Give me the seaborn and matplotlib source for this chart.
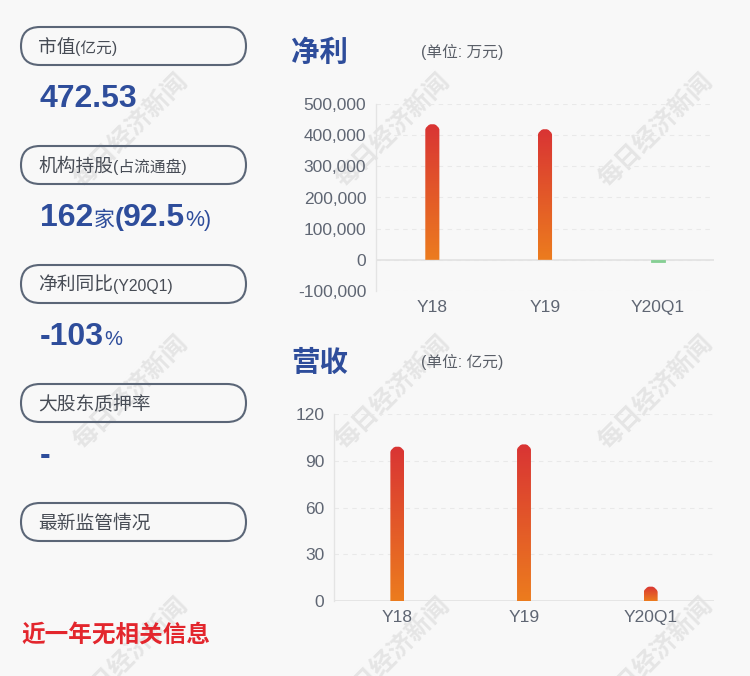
import numpy as np
import pandas as pd
import matplotlib
matplotlib.use('Agg')
import matplotlib.pyplot as plt
import seaborn as sns
from matplotlib.patches import FancyBboxPatch, PathPatch
from matplotlib.path import Path
from matplotlib.transforms import IdentityTransform
from matplotlib.colors import LinearSegmentedColormap

# ---------------- data ----------------
categories = ['Y18', 'Y19', 'Y20Q1']
net_profit = [435000, 419000, -6000]      # 万元
revenue = [99.0, 100.5, 9.2]              # 亿元
profit_ticks = [-100000, 0, 100000, 200000, 300000, 400000, 500000]
revenue_ticks = [0, 30, 60, 90, 120]

info_titles = ['市值', '机构持股', '净利同比', '大股东质押率', '最新监管情况']
info_subtitles = ['(亿元)', '(占流通盘)', '(Y20Q1)', '', '']
market_cap = '472.53'
inst_count = '162'
inst_pct = '92.5'
profit_yoy = '-103'
pledge = '-'
note = '近一年无相关信息'
watermark = '每日经济新闻'

# ---------------- style ----------------
sns.set_theme(style='white')
plt.rcParams['font.family'] = ['Liberation Sans', 'Noto Sans CJK SC', 'DejaVu Sans']
plt.rcParams['axes.unicode_minus'] = False

BG = '#f8f8f8'
BLUE = '#2e4d9b'
GRAY_TXT = '#474c55'
TICK = '#5f6673'
W, H = 750, 676

fig = plt.figure(figsize=(7.5, 6.76), dpi=100, facecolor=BG)
ov = fig.add_axes([0, 0, 1, 1], zorder=-5)
ov.set_xlim(0, W)
ov.set_ylim(H, 0)
ov.axis('off')
renderer = fig.canvas.get_renderer()

# watermarks
for cy in (131, 393, 655):
    for cx in (131, 393, 656):
        ov.text(cx, cy, watermark, rotation=45, ha='center', va='center', fontsize=18,
                fontweight='bold', color='#e5e5e5', family=['Noto Sans CJK SC'], zorder=0)


def pieces(x, y, parts, color):
    for s, size, weight in parts:
        t = ov.text(x, y, s, fontsize=size, fontweight=weight, color=color,
                    va='baseline', ha='left', zorder=3)
        x += t.get_window_extent(renderer).width


# left info panel
box_centers = [46, 165, 284, 403, 522]
for i, c in enumerate(box_centers):
    box = FancyBboxPatch((21, c - 19), 225, 38,
                         boxstyle='round,pad=0,rounding_size=19',
                         fc='none', ec='#5b6677', lw=1.5, zorder=2)
    ov.add_patch(box)
    parts = [(info_titles[i], 13.5, 'normal')]
    if info_subtitles[i]:
        parts.append((info_subtitles[i], 11.3, 'normal'))
    pieces(38, c + 7, parts, GRAY_TXT)

pieces(40, 107, [(market_cap, 23, 'bold')], BLUE)
pieces(40, 226, [(inst_count, 23, 'bold'), ('家', 15, 'normal'), ('(', 19, 'bold'),
                 (inst_pct, 23, 'bold'), ('%)', 15.5, 'normal')], BLUE)
pieces(40, 345, [(profit_yoy, 23, 'bold'), ('%', 14.5, 'normal')], BLUE)
pieces(40, 464, [(pledge, 23, 'bold')], BLUE)
ov.text(21, 642, note, fontsize=17, fontweight='bold', color='#e3262d',
        family=['Noto Sans CJK SC'], va='baseline', ha='left')

# chart titles
ov.text(291, 61, '净利', fontsize=20.5, fontweight='bold', color=BLUE,
        family=['Noto Sans CJK SC'], va='baseline')
ov.text(421, 56.5, '(单位: 万元)', fontsize=11.3, color='#5a5f68', va='baseline')
ov.text(291, 371, '营收', fontsize=20.5, fontweight='bold', color=BLUE,
        family=['Noto Sans CJK SC'], va='baseline')
ov.text(421, 366.5, '(单位: 亿元)', fontsize=11.3, color='#5a5f68', va='baseline')

cmap = LinearSegmentedColormap.from_list('barg', ['#ec7c1e', '#d93434'])


def style_axes(ax, ticks, ylim, fmt):
    ax.set_facecolor('none')
    ax.set_xlim(-0.5, 2.5)
    ax.set_ylim(*ylim)
    ax.set_yticks(ticks)
    ax.set_yticklabels([fmt(v) for v in ticks])
    ax.set_xlabel('')
    ax.set_ylabel('')
    for s in ('top', 'right', 'bottom'):
        ax.spines[s].set_visible(False)
    ax.spines['left'].set_color('#e4e4e4')
    ax.spines['left'].set_linewidth(1)
    ax.tick_params(axis='both', length=0, labelsize=12.5, labelcolor=TICK)
    ax.tick_params(axis='y', pad=7)
    ax.tick_params(axis='x', pad=6.5)
    ax.yaxis.grid(True, linestyle=(0, (4, 4)), color='#e9e9e9', lw=0.8)
    ax.set_axisbelow(True)
    ax.axhline(0, color='#e2e2e2', lw=1.2, zorder=1)


def gradient_bars(ax):
    ax.set_autoscale_on(False)
    items = []
    for p in list(ax.patches):
        h = p.get_height()
        if h <= 0:
            continue
        bb = p.get_window_extent(renderer)
        items.append((p, bb))
    for p, bb in items:
        x0, x1, y0, y1 = bb.x0, bb.x1, bb.y0, bb.y1
        r = (x1 - x0) / 2
        arc = Path.arc(0, 180)
        arc_v = arc.vertices * r + np.array([(x0 + x1) / 2, y1 - r])
        verts = [(x0, y0), (x1, y0), (x1, y1 - r)] + [tuple(v) for v in arc_v] + [(x0, y0), (x0, y0)]
        codes = [Path.MOVETO, Path.LINETO, Path.LINETO] + [Path.LINETO] * len(arc_v) + [Path.LINETO, Path.CLOSEPOLY]
        clip = PathPatch(Path(verts, codes), transform=IdentityTransform())
        grad = np.linspace(0, 1, 256).reshape(-1, 1)
        px0 = p.get_x()
        pw = p.get_width()
        im = ax.imshow(grad, extent=[px0, px0 + pw, p.get_y(), p.get_y() + p.get_height()],
                       origin='lower', aspect='auto', cmap=cmap, zorder=3,
                       interpolation='bilinear')
        im.set_clip_path(clip)
        p.set_visible(False)


# net profit chart
ax1 = fig.add_axes([376 / W, (H - 291) / H, (714 - 376) / W, (291 - 104) / H])
df1 = pd.DataFrame({'period': categories, 'value': net_profit})
sns.barplot(data=df1, x='period', y='value', hue='period', ax=ax1, width=0.125,
            palette=['#e0502a', '#e0502a', '#86cf94'], saturation=1, legend=False)
style_axes(ax1, profit_ticks, (-100000, 500000), lambda v: f'{v:,}')
for p in ax1.patches:
    if p.get_height() < 0:
        p.set_edgecolor('#86cf94')
        p.set_linewidth(0.6)
        p.set_zorder(4)
gradient_bars(ax1)

# revenue chart
ax2 = fig.add_axes([334 / W, (H - 601) / H, (714 - 334) / W, (601 - 414) / H])
df2 = pd.DataFrame({'period': categories, 'value': revenue})
sns.barplot(data=df2, x='period', y='value', hue='period', ax=ax2, width=0.11,
            palette=['#e0502a'] * 3, saturation=1, legend=False)
style_axes(ax2, revenue_ticks, (0, 120), lambda v: f'{v}')
gradient_bars(ax2)

fig.savefig('out.png', dpi=100, facecolor=BG)
